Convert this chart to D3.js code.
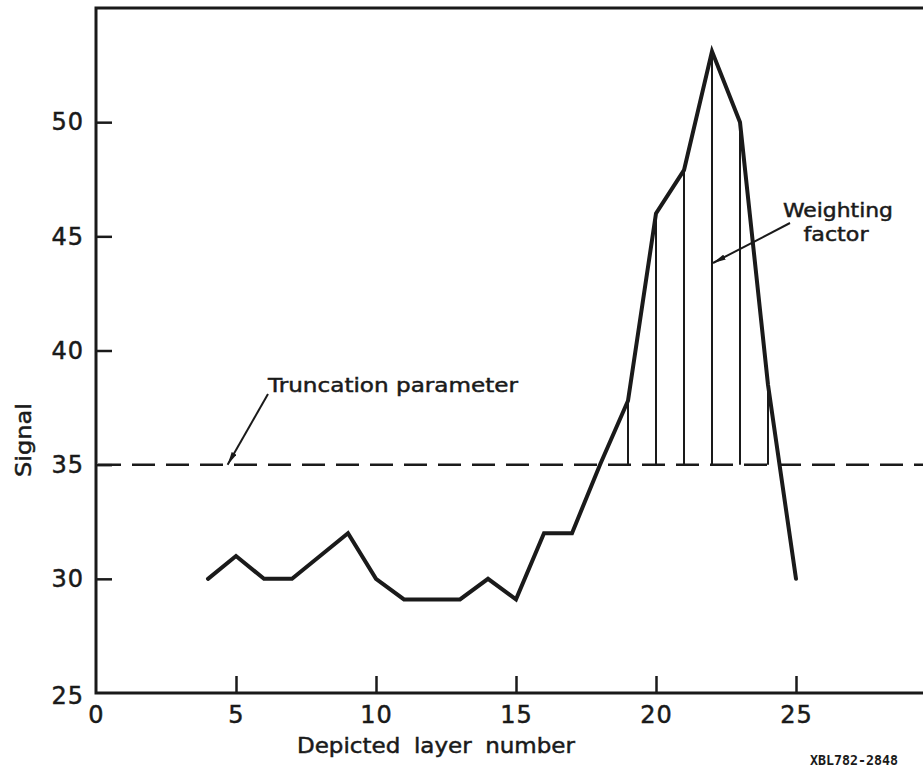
<!DOCTYPE html>
<html>
<head>
<meta charset="utf-8">
<script src="https://cdn.jsdelivr.net/npm/d3@7"></script>
<style>
  body { margin: 0; background: #fff; }
  svg { display: block; }
  text { font-family: "DejaVu Sans", sans-serif; fill: #1a1a1a; stroke: #1a1a1a; stroke-width: 0.5px; }
</style>
</head>
<body>
<script>
// values
var layers = [4, 5, 6, 7, 8, 9, 10, 11, 12, 13, 14, 15, 16, 17, 18, 19, 20, 21, 22, 23, 24, 25];
var signal = [30, 31, 30, 30, 31, 32, 30, 29.1, 29.1, 29.1, 30, 29.1, 32, 32, 35, 37.8, 46, 47.9, 53.1, 50, 38.5, 30];
var weightLayers = [19, 20, 21, 22, 23, 24];
var truncation = 35;
var xTicks = [0, 5, 10, 15, 20, 25];
var yTicks = [25, 30, 35, 40, 45, 50];

var w = 923, h = 768;
var ink = "#1a1a1a";

var svg = d3.select("body").append("svg")
    .attr("width", w)
    .attr("height", h);

var defs = svg.append("defs");
defs.append("marker")
    .attr("id", "arrow")
    .attr("viewBox", "0 0 13 6")
    .attr("refX", 13).attr("refY", 3)
    .attr("markerWidth", 13).attr("markerHeight", 6)
    .attr("markerUnits", "userSpaceOnUse")
    .attr("orient", "auto")
    .append("path")
    .attr("d", "M0,0.3 L13,3 L0,5.7 Z")
    .attr("fill", ink);

/*Scales*/
var xScale = d3.scaleLinear().domain([0, 30]).range([96, 936]);
var yScale = d3.scaleLinear().domain([25, 55]).range([693, 8]);

/*Axes*/
var xAxis = d3.axisBottom(xScale)
    .tickValues(xTicks)
    .tickSize(-17)
    .tickPadding(13)
    .tickFormat(d3.format("d"));
var yAxis = d3.axisLeft(yScale)
    .tickValues(yTicks)
    .tickSize(-16)
    .tickPadding(12)
    .tickFormat(d3.format("d"));

var gx = svg.append("g")
    .attr("transform", "translate(0," + yScale(25) + ")")
    .call(xAxis);
var gy = svg.append("g")
    .attr("transform", "translate(" + xScale(0) + ",0)")
    .call(yAxis);

[gx, gy].forEach(function(g) {
    g.select(".domain").remove();
    g.selectAll(".tick line").attr("stroke", ink).attr("stroke-width", 2.5);
    g.selectAll(".tick text")
        .style("font-size", "24px")
        .style("letter-spacing", "1px")
        .attr("fill", ink);
});
gx.selectAll(".tick").filter(function(d) { return d === 0; }).select("line").remove();
gy.selectAll(".tick").filter(function(d) { return d === 25; }).select("line").remove();
gy.selectAll(".tick").filter(function(d) { return d === 25; }).select("text").attr("dy", "0.42em");

/*Frame*/
svg.append("path")
    .attr("d", "M" + xScale(30) + "," + yScale(25) +
               "H" + xScale(0) + "V" + yScale(55) + "H" + xScale(30))
    .attr("fill", "none")
    .attr("stroke", ink)
    .attr("stroke-width", 3);

/*Truncation line*/
svg.append("line")
    .attr("x1", xScale(0) + 2).attr("x2", xScale(30))
    .attr("y1", yScale(truncation)).attr("y2", yScale(truncation))
    .attr("stroke", ink)
    .attr("stroke-width", 2.5)
    .attr("stroke-dasharray", "23,11");

/*Weighting hatch*/
var valueAt = {};
layers.forEach(function(l, i) { valueAt[l] = signal[i]; });
svg.selectAll(".hatch")
    .data(weightLayers)
    .enter().append("line")
    .attr("class", "hatch")
    .attr("x1", function(d) { return xScale(d); })
    .attr("x2", function(d) { return xScale(d); })
    .attr("y1", yScale(truncation))
    .attr("y2", function(d) { return yScale(valueAt[d]); })
    .attr("stroke", ink)
    .attr("stroke-width", 2);

/*Signal curve*/
var line = d3.line()
    .x(function(d, i) { return xScale(layers[i]); })
    .y(function(d) { return yScale(d); });
svg.append("path")
    .datum(signal)
    .attr("d", line)
    .attr("fill", "none")
    .attr("stroke", ink)
    .attr("stroke-width", 4)
    .attr("stroke-linejoin", "miter")
    .attr("stroke-linecap", "round");

/*Annotations*/
svg.append("text")
    .attr("x", 268).attr("y", 392)
    .attr("textLength", 250)
    .attr("lengthAdjust", "spacingAndGlyphs")
    .style("font-size", "20px")
    .text("Truncation parameter");
svg.append("line")
    .attr("x1", 268).attr("y1", 394)
    .attr("x2", xScale(4.7)).attr("y2", yScale(truncation))
    .attr("stroke", ink).attr("stroke-width", 2)
    .attr("marker-end", "url(#arrow)");

svg.append("text")
    .attr("x", 838).attr("y", 217)
    .attr("text-anchor", "middle")
    .attr("textLength", 110)
    .attr("lengthAdjust", "spacingAndGlyphs")
    .style("font-size", "20px")
    .text("Weighting");
svg.append("text")
    .attr("x", 836).attr("y", 241)
    .attr("text-anchor", "middle")
    .attr("textLength", 65)
    .attr("lengthAdjust", "spacingAndGlyphs")
    .style("font-size", "20px")
    .text("factor");
svg.append("line")
    .attr("x1", 790).attr("y1", 223)
    .attr("x2", xScale(22) + 1).attr("y2", 263)
    .attr("stroke", ink).attr("stroke-width", 2)
    .attr("marker-end", "url(#arrow)");

/*Axis titles*/
svg.append("text")
    .attr("x", 436).attr("y", 753)
    .attr("text-anchor", "middle")
    .attr("textLength", 278)
    .attr("lengthAdjust", "spacingAndGlyphs")
    .style("font-size", "22px")
    .style("word-spacing", "6px")
    .text("Depicted layer number");
svg.append("text")
    .attr("transform", "translate(31,440) rotate(-90)")
    .attr("text-anchor", "middle")
    .attr("textLength", 74)
    .attr("lengthAdjust", "spacingAndGlyphs")
    .style("font-size", "22px")
    .text("Signal");

svg.append("text")
    .attr("x", 810).attr("y", 765)
    .attr("textLength", 88)
    .attr("lengthAdjust", "spacingAndGlyphs")
    .style("font-family", "'DejaVu Sans Mono', monospace")
    .style("font-weight", "bold")
    .style("font-size", "14px")
    .style("stroke-width", "0px")
    .text("XBL782-2848");
</script>
</body>
</html>
